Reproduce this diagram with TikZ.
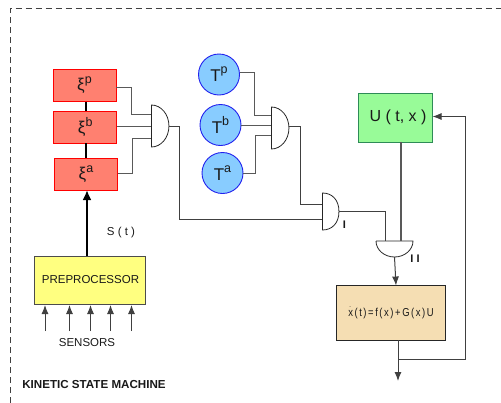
\documentclass[tikz,border=0pt]{standalone}
\usepackage{fontspec}
\setmainfont{Liberation Sans}
\usetikzlibrary{arrows.meta,calc}
\tikzset{
  base/.style={inner sep=0pt,outer sep=0pt,text=black!90},
  xibox/.style={base,draw=red,fill=xired,line width=0.9pt,minimum width=63pt,minimum height=32pt,font=\fontsize{17}{17}\selectfont},
  tcirc/.style={base,circle,draw=tblue,fill=tfill,line width=0.9pt,minimum size=41pt,font=\fontsize{17}{17}\selectfont},
  gatebox/.style={base,minimum width=17.5pt,minimum height=42pt},
  wire/.style={draw=black!65,line width=1pt},
  darkwire/.style={draw=black!75,line width=1pt},
  thickwire/.style={draw=black,line width=2.4pt},
  arr/.style={darkwire,-{Latex[length=9pt,width=7pt]}},
  label/.style={base,font=\fontsize{11.5}{12}\selectfont},
}
\definecolor{xired}{HTML}{FF8070}
\definecolor{tblue}{HTML}{2222EE}
\definecolor{tfill}{HTML}{88CCFF}
\definecolor{ugreen}{HTML}{98FB98}
\definecolor{udraw}{HTML}{2E8B57}
\definecolor{pyellow}{HTML}{FFFF80}
\definecolor{wheatbox}{HTML}{F5DEB3}
\newcommand{\andright}[1]{\draw[black!85,line width=0.8pt] (#1.north west) .. controls ($(#1.north west)+(9.7,0)$) and ($(#1.east)+(0,-11.6)$) .. (#1.east) .. controls ($(#1.east)+(0,11.6)$) and ($(#1.south west)+(9.7,0)$) .. (#1.south west) -- cycle;}
\newcommand{\rsup}[2]{\raisebox{#1}{\fontsize{12.5}{13}\selectfont #2}}
\begin{document}
\begin{tikzpicture}[x=1pt,y=-1pt]
\useasboundingbox (0,0) rectangle (501,402);
% frame
\coordinate (f1) at (10,403);
\coordinate (f2) at (10,8.5);
\coordinate (f3) at (502,8.5);
\draw[black!75,line width=0.9pt,dash pattern=on 6.5pt off 3.5pt] (f1) -- (f2) -- (f3);
% boxes
\node[xibox] (xp) at (84.5,85.5) {ξ\rsup{7pt}{p}};
\node[xibox] (xb) at (85.2,127.2) {ξ\rsup{7pt}{b}};
\node[xibox] (xa) at (86,174) {ξ\rsup{7pt}{a}};
\node[tcirc] (tp) at (219,74.5) {T\rsup{8pt}{p}};
\node[tcirc] (tb) at (220.5,125) {T\rsup{8pt}{b}};
\node[tcirc] (ta) at (222.5,173) {T\rsup{8pt}{a}};
\node[base,draw=udraw,fill=ugreen,line width=0.9pt,minimum width=74pt,minimum height=48.5pt,font=\fontsize{16}{16}\selectfont] (u) at (395.5,117.7) {\hspace*{5pt}U ( t, x )};
\node[base,draw=black!70,fill=pyellow,line width=1pt,minimum width=111pt,minimum height=48pt] (pre) at (89.5,280) {\raisebox{1.5pt}{\fontsize{11.5}{12}\selectfont\hspace*{2pt}PREPROCESSOR}};
\node[base,draw=black!85,fill=wheatbox,line width=0.9pt,minimum width=109pt,minimum height=54.5pt] (sys) at (391,312.8) {\scalebox{0.82}[1]{\fontsize{11.5}{12}\selectfont \rlap{\raisebox{8.5pt}{\hspace*{1.2pt}\fontsize{7}{7}\selectfont .}}x\,(\,t\,)\,=\,f\,(\,x\,)\,+\,G\,(\,x\,)\,U}};
% gates
\node[gatebox] (g1) at (160.2,126) {};
\node[gatebox] (g2) at (280.2,128) {};
\node[gatebox,minimum height=37pt,minimum width=16.5pt] (g3) at (330.7,211.5) {};
\andright{g1}
\andright{g2}
\andright{g3}
\node[base,minimum width=37pt,minimum height=16pt] (g4) at (394.5,249) {};
\draw[black!85,line width=0.8pt] (g4.north west) -- (g4.north east) .. controls ($(g4.north east)+(0,8.8)$) and ($(g4.south)+(10.2,0)$) .. (g4.south) .. controls ($(g4.south)+(-10.2,0)$) and ($(g4.north west)+(0,8.8)$) .. (g4.north west);
% wires into gate 1
\draw[wire] ($(xp.east)+(0,1.5)$) -- ++(15,0) |- ($(g1.west)+(0,-12)$);
\draw[wire] ($(xb.east)+(0,-1.2)$) -- (g1.west);
\draw[wire] ($(xa.east)+(0,-1)$) -- ++(15,0) |- ($(g1.west)+(0,12.5)$);
% wires into gate 2
\draw[wire] ($(tp.east)+(0,-2)$) -- ++(14.5,0) |- ($(g2.west)+(0,-12.5)$);
\draw[wire] (tb.east) -- (g2.west |- tb.east);
\draw[wire] (ta.east) -- ++(12,0) |- ($(g2.west)+(0,7)$);
% gate outputs
\draw[darkwire] (g1.east) -- (179.5,126) |- ($(g3.west)+(0,7.5)$);
\draw[darkwire] ($(g2.east)+(0,-2)$) -- (300,126) |- ($(g3.west)+(0,-7.5)$);
\draw[darkwire] (g3.east) -| (385,241);
\draw[wire,line width=1.3pt] (u.south -| 401,0) -- (401,241);
\draw[arr] (g4.south) -- (sys.north -| 396,0);
% system output and feedback
\coordinate (out) at (398,381);
\coordinate (fb) at (398,359.5);
\draw[arr] (sys.south -| out) -- (out);
\draw[darkwire,-{Latex[length=9pt,width=7pt]}] (fb) -- (465,359.5) -- (465,116.5) -- (u.east |- 0,116.5);
% xi stack
\draw[thickwire] (xp.south -| 86,0) -- (xb.north -| 86,0);
\draw[thickwire] (xb.south -| 86,0) -- (xa.north -| 86,0);
\draw[thickwire,-{Latex[length=10pt,width=9pt]}] (pre.north -| 87,0) -- (xa.south -| 87,0);
% sensors
\foreach \n/\x in {1/45,2/69.5,3/90.5,4/110.5,5/131.5}{
  \coordinate (s\n) at (\x,331);
  \draw[arr] (s\n) -- (\x,305);
}
% labels
\node[label] (st) at (121,232.5) {S ( t )};
\node[label] (sens) at (87,343) {SENSORS};
\node[label,font=\fontsize{11.6}{12}\selectfont\bfseries] (ksm) at (94,385) {KINETIC STATE MACHINE};
\node[label,font=\fontsize{11}{12}\selectfont\bfseries] (l1) at (344.5,224.5) {I};
\node[label,font=\fontsize{11}{12}\selectfont\bfseries] (l2) at (415,258.5) {I I};
\end{tikzpicture}
\end{document}
